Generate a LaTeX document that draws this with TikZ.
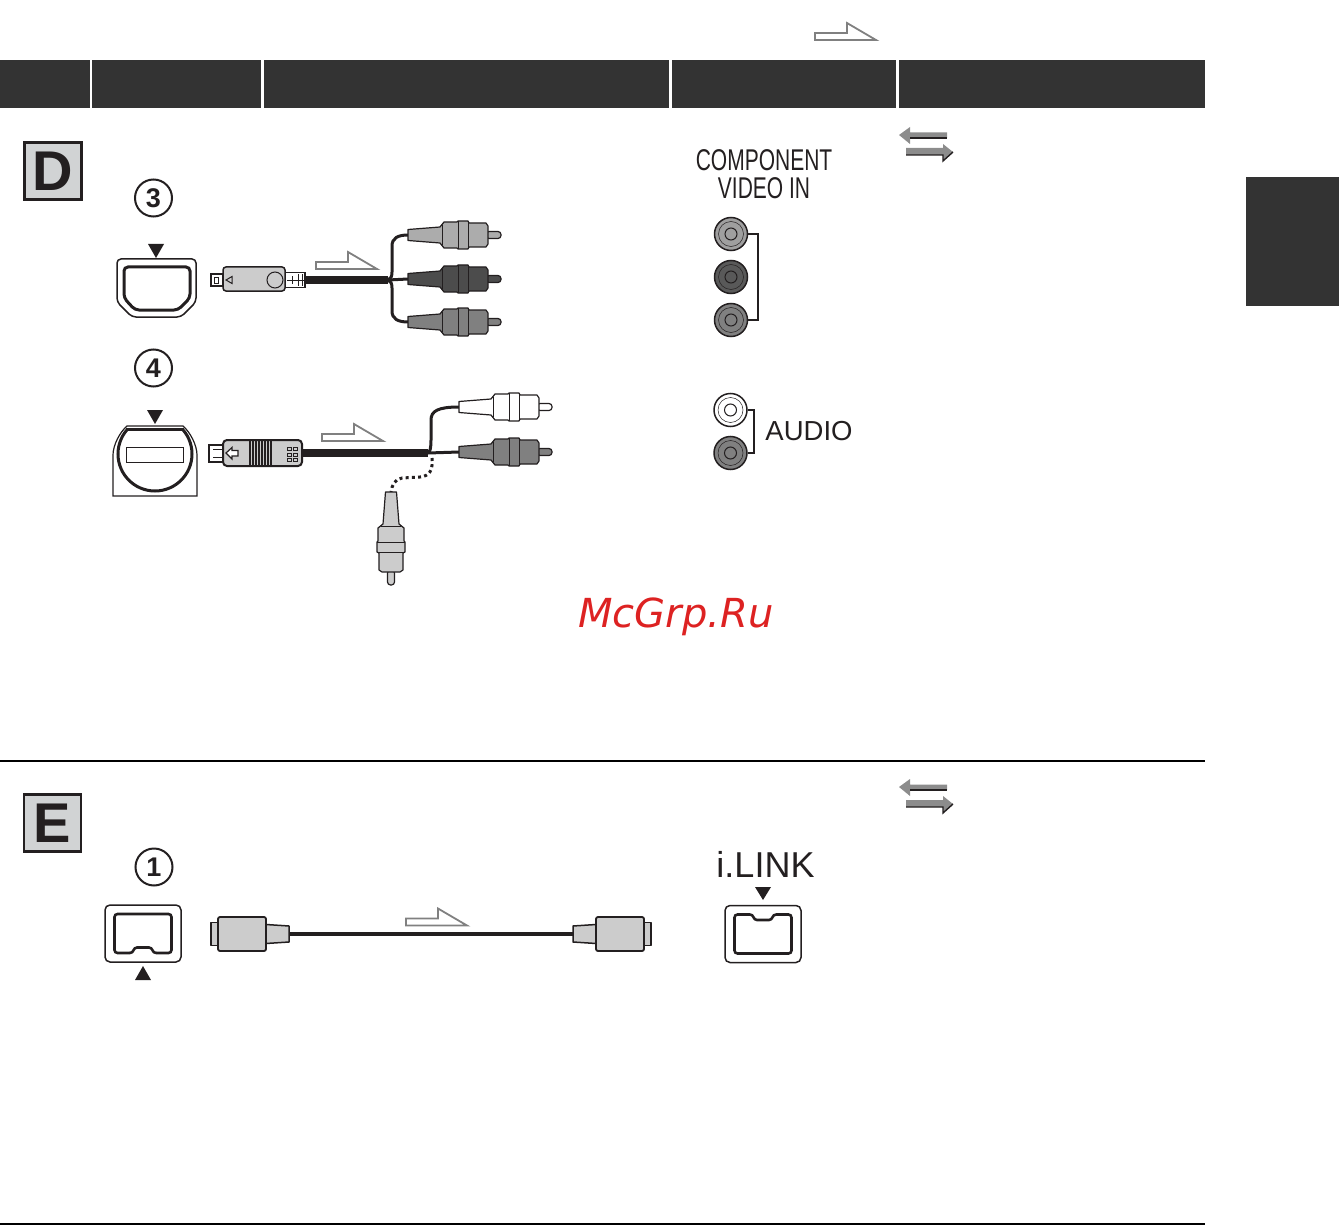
\documentclass[tikz,border=0pt]{standalone}
\usepackage{fontspec}
\usepackage{xcolor}
\usepackage{graphicx}
\setmainfont{Liberation Sans}
\newfontfamily\markfont{DejaVu Sans}
\definecolor{barcol}{HTML}{333333}
\definecolor{inkcol}{HTML}{231F20}
\definecolor{boxcol}{HTML}{D1D3D4}
\definecolor{plugcol}{HTML}{CCCCCC}
\definecolor{markcol}{HTML}{DD2222}
\tikzset{
	bar/.style={fill=barcol},
	sectionbox/.style={draw=inkcol,fill=boxcol,line width=2.5,minimum size=57,inner sep=0,text=inkcol,font=\fontsize{56pt}{56pt}\selectfont\bfseries},
	numcircle/.style={circle,draw=inkcol,line width=2,minimum size=37,inner sep=0,text=inkcol,font=\fontsize{27pt}{27pt}\selectfont\bfseries},
	jack/.style={circle,draw=inkcol,line width=1.5,minimum size=33,inner sep=0},
	bigcable/.style={inkcol,line width=8},
	thincable/.style={inkcol,line width=3},
	pics/rcaplug/.style={code={
		\draw[inkcol,line width=1.2,fill=#1,rounded corners=3] (78,-3.5) rectangle (93,3.5);
		\draw[inkcol,line width=1.2,fill=#1,line join=round] (0,-5.5) -- (32,-8) -- (36,-13) -- (49,-13) -- (50,-14) -- (60,-14) -- (61,-12) -- (78,-12) -- (80,-9) -- (80,9) -- (78,12) -- (61,12) -- (60,14) -- (50,14) -- (49,13) -- (36,13) -- (32,8) -- (0,5.5) -- cycle;
		\draw[inkcol,line width=0.8] (50,-14) -- (50,14) (60,-14) -- (60,14) (34,-10) -- (34,10);
	}},
	pics/hollowarrow/.style={code={
		\draw[gray,line width=1.8,fill=white] (0,-7) -- (32,-7) -- (32,-17) -- (61,0) -- (0,0) -- cycle;
	}},
	pics/twoarrows/.style={code={
		\fill[gray!90] (0,0) -- (11,-8) -- (11,-2.5) -- (48,-2.5) -- (48,3) -- (11,3) -- (11,9) -- cycle;
		\draw[inkcol,line width=1.2] (11,3) -- (48,3);
		\fill[gray!90] (7,13) -- (44,13) -- (44,9) -- (54,17) -- (44,26) -- (44,20) -- (7,20) -- cycle;
		\draw[inkcol,line width=1.4] (7,20) -- (44,20) -- (44,26) -- (54,17);
	}},
	pics/linkplug/.style={code={
		\draw[inkcol,line width=1.5,fill=plugcol,line join=round] (-78,-11.5) rectangle (-70,11.5);
		\draw[inkcol,line width=1.5,fill=plugcol,line join=round] (0,-8) -- (-23,-9.5) -- (-23,9.5) -- (0,8) -- cycle;
		\draw[inkcol,line width=1.8,fill=plugcol,rounded corners=2] (-71,-17) rectangle (-23,17);
	}},
	pics/linkport/.style={code={
		\draw[inkcol,line width=1.5,rounded corners=5] (-38,-28.5) rectangle (38,28.5);
		\draw[inkcol,line width=2.6,rounded corners=3] (-13,19.5) -- (-28.5,19.5) -- (-28.5,-19.5) -- (28.5,-19.5) -- (28.5,19.5) -- (13,19.5);
		\draw[inkcol,line width=2.6,line cap=round] (13,19.5) .. controls (9,19.5) and (10,14) .. (6,14) -- (-6,14) .. controls (-10,14) and (-9,19.5) .. (-13,19.5);
	}},
}
\begin{document}
\begin{tikzpicture}[x=1pt,y=-1pt]
	\useasboundingbox (0,0) rectangle (1339,1225);
	% header
	\fill[bar] (0,60) rectangle (90,108);
	\fill[bar] (92,60) rectangle (261,108);
	\fill[bar] (264,60) rectangle (669,108);
	\fill[bar] (672,60) rectangle (896,108);
	\fill[bar] (899,60) rectangle (1205,108);
	\fill[bar] (1246,177) rectangle (1339,306);
	\draw[black,line width=2] (0,761) -- (1205,761);
	\draw[black,line width=2] (0,1224) -- (1205,1224);
	\pic at (815,40) {hollowarrow};

	% section D
	\node[sectionbox] (boxD) at (53,171) {D};
	\pic at (899,135) {twoarrows};
	\node[numcircle] (numC) at (153.5,198) {3};
	\node[numcircle] (numD) at (153.5,368) {4};

	% port 3
	\fill[inkcol] (148,244) -- (164,244) -- (156,258) -- cycle;
	\draw[inkcol,line width=1.5,rounded corners=4] (117,259) -- (196,259) -- (196,302) -- (181,317) -- (132,317) -- (117,302) -- cycle;
	\draw[inkcol,line width=3,rounded corners=4] (124,267) -- (190,267) -- (190,298) -- (178,310) -- (135,310) -- (124,298) -- cycle;

	% cable 3
	\coordinate (splitC) at (388,280);
	\coordinate (plugY) at (408,235);
	\coordinate (plugB) at (408,279);
	\coordinate (plugR) at (408,322);
	\draw[thincable] (splitC) .. controls (391,279) and (392,276) .. (392,272) -- (392,246) .. controls (392,238) and (398,235) .. (plugY);
	\draw[thincable] (splitC) -- (plugB);
	\draw[thincable] (splitC) .. controls (391,281) and (392,284) .. (392,288) -- (392,311) .. controls (392,319) and (398,322) .. (plugR);
	\pic at (plugY) {rcaplug=gray!65};
	\pic at (plugB) {rcaplug=black!70};
	\pic at (plugR) {rcaplug=gray};
	\node[draw=inkcol,line width=1.5,fill=white,minimum width=20,minimum height=15,inner sep=0] (neckC) at (295,280) {};
	\draw[inkcol,line width=1] (287,280) -- (305,280) (292,276) -- (292,284) (298,274) -- (298,286) (302,274) -- (302,286);
	\draw[bigcable] (neckC.east) -- (splitC);
	\node[draw=inkcol,line width=1.5,fill=white,minimum width=12,minimum height=12,inner sep=0] (tipC) at (217,280) {};
	\draw[inkcol,line width=0.8] (214,277.5) rectangle (218,283);
	\node[draw=inkcol,line width=1.5,fill=plugcol,rounded corners=3,minimum width=62,minimum height=24,inner sep=0] (bodyC) at (254,279) {};
	\draw[inkcol,line width=1] (275,280) circle (8);
	\draw[inkcol,line width=1] (232,276.5) -- (226,280) -- (232,283.5) -- cycle;

	% port 4
	\fill[inkcol] (147,410) -- (163,410) -- (155,424) -- cycle;
	\draw[inkcol,line width=1.2] (113,496) -- (197,496) -- (197,455) .. controls (197,445) and (190,432) .. (183,426) -- (127,426) .. controls (120,432) and (113,445) .. (113,455) -- cycle;
	\begin{scope}
		\clip (113,429) rectangle (197,500);
		\draw[inkcol,line width=3] (155,454) circle (37);
	\end{scope}
	\draw[inkcol,line width=3] (126,429.5) -- (184,429.5);
	\draw[inkcol,line width=1] (126,447) rectangle (183,462);

	% cable 4
	\coordinate (splitD) at (428,453);
	\coordinate (plugW) at (459,407);
	\coordinate (plugS) at (459,452);
	\coordinate (plugG) at (391,492);
	\draw[thincable] (splitD) .. controls (430,452) and (431,448) .. (431,440) -- (431,420) .. controls (431,411) and (438,407) .. (plugW);
	\draw[thincable] (splitD) -- (plugS);
	\draw[inkcol,line width=3,dash pattern=on 3pt off 3.2pt] (432,458) .. controls (433,470) and (430,476) .. (420,477) -- (402,478) .. controls (395,479) and (392,485) .. (plugG);
	\pic at (plugW) {rcaplug=white};
	\pic at (plugS) {rcaplug=gray};
	\pic[rotate=-90] at (plugG) {rcaplug=gray!40};
	\node[draw=inkcol,line width=2,fill=white,minimum width=15,minimum height=17,inner sep=0] (tipD) at (216,453) {};
	\draw[inkcol,line width=0.8] (213,449) -- (224,449) (213,457) -- (224,457);
	\node[draw=inkcol,line width=2,fill=plugcol,rounded corners=4,minimum width=79,minimum height=26,inner sep=0] (bodyD) at (262.5,453) {};
	\draw[bigcable] (bodyD.east) -- (splitD);
	\draw[inkcol,line width=1.2,fill=white] (226,453) -- (232,447.5) -- (232,450.5) -- (238,450.5) -- (238,456) -- (232,456) -- (232,459) -- cycle;
	\foreach \ribx in {250,253,...,271} {
		\draw[inkcol,line width=1.2] (\ribx,441) -- (\ribx,466);
	}
	\foreach \gridx in {287,293} {
		\foreach \gridy in {447,453,458} {
			\draw[inkcol,line width=0.9] (\gridx,\gridy) rectangle ++(4.5,3.5);
		}
	}
	\pic at (316,269) {hollowarrow};
	\pic at (322,441) {hollowarrow};

	% jacks
	\node[font=\fontsize{30pt}{30pt}\selectfont,text=inkcol,inner sep=0] (labComp) at (764,160) {\scalebox{0.7}[1]{COMPONENT}};
	\node[font=\fontsize{30pt}{30pt}\selectfont,text=inkcol,inner sep=0] (labVideo) at (764,188) {\scalebox{0.7}[1]{VIDEO IN}};
	\foreach \jackname/\jackx/\jacky/\jackcol in {jackY/731/234/gray!75,jackB/731/277/black!65,jackR/731/320/gray,jackW/730.5/410/white,jackL/730.5/453/gray} {
		\node[jack,fill=\jackcol] (\jackname) at (\jackx,\jacky) {};
		\draw[inkcol,line width=0.5] (\jackname) circle (12.5);
		\draw[inkcol,line width=1] (\jackname) circle (6);
	}
	\draw[inkcol,line width=2] (jackY.east) -- ++(9.5,0) |- (jackR.east);
	\draw[inkcol,line width=2] (jackW.east) -- ++(6,0) |- (jackL.east);
	\node[font=\fontsize{27.5pt}{27.5pt}\selectfont,text=inkcol,inner sep=0] (labAudio) at (809,431) {AUDIO};

	% watermark
	\node[font=\markfont\itshape\fontsize{40pt}{40pt}\selectfont,text=markcol,inner sep=0] (labMark) at (676,617) {McGrp.Ru};

	% section E
	\node[sectionbox] (boxE) at (52.5,823) {E};
	\pic at (899,787) {twoarrows};
	\node[numcircle] (numA) at (154,867) {1};
	\pic at (143,933.5) {linkport};
	\fill[inkcol] (135,980) -- (151,980) -- (143,966) -- cycle;
	\coordinate (linkL) at (289,934);
	\coordinate (linkR) at (573,934);
	\draw[inkcol,line width=4.5] (linkL) -- (linkR);
	\pic at (linkL) {linkplug};
	\pic[xscale=-1] at (linkR) {linkplug};
	\pic at (406,925.5) {hollowarrow};
	\node[font=\fontsize{36pt}{36pt}\selectfont,text=inkcol,inner sep=0] (labLink) at (765.5,864) {i.LINK};
	\fill[inkcol] (755,887) -- (771,887) -- (763,900) -- cycle;
	\pic[yscale=-1] at (763,934) {linkport};
\end{tikzpicture}
\end{document}
